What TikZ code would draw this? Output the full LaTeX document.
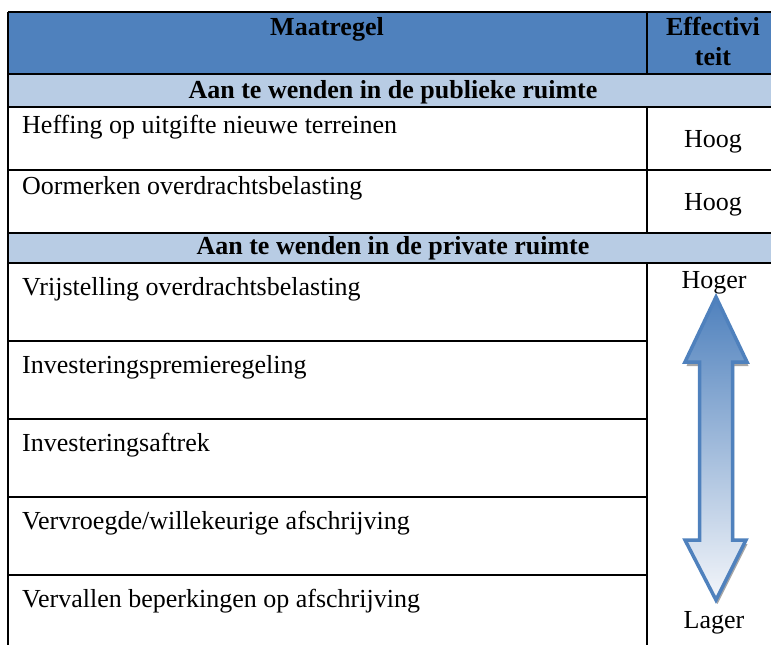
\documentclass[tikz,border=0pt]{standalone}
\usepackage{fontspec}
\setmainfont{Liberation Serif}
\definecolor{hdrblue}{RGB}{79,129,189}
\definecolor{subblue}{RGB}{184,204,228}
\definecolor{arrowlight}{RGB}{244,246,250}
\definecolor{arrowmid}{RGB}{170,189,219}
\begin{document}
\begin{tikzpicture}[x=1pt,y=-1pt,
  rule/.style={line width=1.6pt,black},
  txt/.style={inner sep=0pt,font=\fontsize{26}{30}\selectfont},
  lefttxt/.style={txt,anchor=base west},
  midtxt/.style={txt,anchor=base},
  boldtxt/.style={txt,anchor=base,font=\fontsize{26}{30}\selectfont\bfseries},
]
\useasboundingbox (0,0) rectangle (771,645);
\clip (0,0) rectangle (771,645);
% fills
\fill[hdrblue] (8,12) rectangle (779,74);
\fill[subblue] (8,74) rectangle (779,107);
\fill[subblue] (8,233) rectangle (779,263);
% horizontal rules
\draw[rule] (8,12) -- (779,12);
\draw[rule] (8,74) -- (779,74);
\draw[rule] (8,107) -- (779,107);
\draw[rule] (8,170) -- (779,170);
\draw[rule] (8,233) -- (779,233);
\draw[rule] (8,263) -- (779,263);
\draw[rule] (8,341) -- (647,341);
\draw[rule] (8,419) -- (647,419);
\draw[rule] (8,497) -- (647,497);
\draw[rule] (8,575) -- (647,575);
% vertical rules
\draw[rule] (8,12) -- (8,646);
\draw[rule] (647,12) -- (647,74);
\draw[rule] (647,107) -- (647,233);
\draw[rule] (647,263) -- (647,646);
% header texts
\node[boldtxt] (maat) at (327,35) {Maatregel};
\node[boldtxt] (eff1) at (713,35) {Effectivi};
\node[boldtxt] (eff2) at (713,65) {teit};
\node[boldtxt] (pub) at (393,98) {Aan te wenden in de publieke ruimte};
\node[boldtxt] (priv) at (393,254) {Aan te wenden in de private ruimte};
% rows
\node[lefttxt] (r1) at (22,133) {Heffing op uitgifte nieuwe terreinen};
\node[midtxt] (h1) at (713,147) {Hoog};
\node[lefttxt] (r2) at (22,194) {Oormerken overdrachtsbelasting};
\node[midtxt] (h2) at (713,210) {Hoog};
\node[lefttxt] (r3) at (22,295) {Vrijstelling overdrachtsbelasting};
\node[lefttxt] (r4) at (22,373) {Investeringspremieregeling};
\node[lefttxt] (r5) at (22,451) {Investeringsaftrek};
\node[lefttxt] (r6) at (22,529) {Vervroegde/willekeurige afschrijving};
\node[lefttxt] (r7) at (22,607) {Vervallen beperkingen op afschrijving};
\node[midtxt] (hoger) at (714,288) {Hoger};
\node[midtxt] (lager) at (714,628) {Lager};
% double arrow
\def\arrowpath{(716,297) -- (747,362) -- (732.5,362) -- (732.5,540) -- (746,540) -- (716,600) -- (685,540) -- (699.5,540) -- (699.5,362) -- (685,362) -- cycle}
\fill[gray!70,shift={(1.5,4)}] \arrowpath;
\shade[top color=hdrblue,middle color=arrowmid,bottom color=arrowlight] \arrowpath;
\draw[hdrblue,line width=3.5pt,line join=miter] \arrowpath;
\end{tikzpicture}
\end{document}
